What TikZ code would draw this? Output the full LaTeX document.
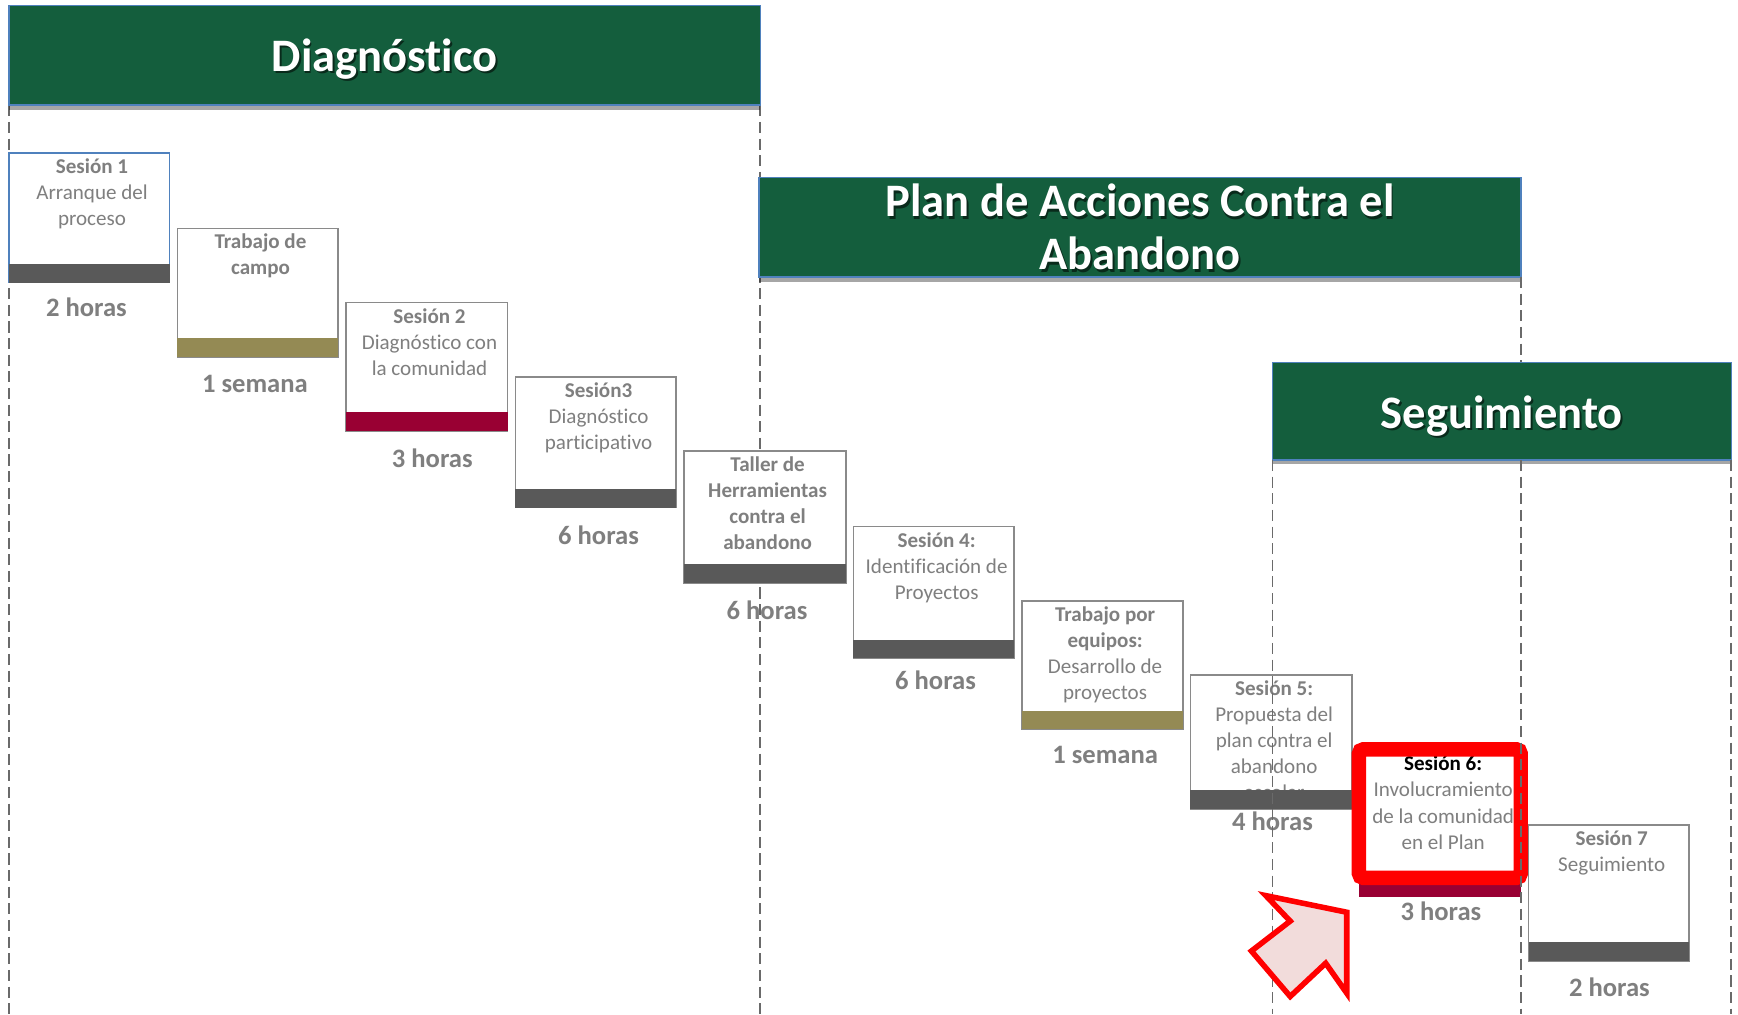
\documentclass[tikz,border=0pt]{standalone}
\usepackage{fontspec}
\setmainfont{Carlito}[Ligatures=NoCommon]
\usetikzlibrary{shadows}
\definecolor{bannergreen}{HTML}{145E3D}
\definecolor{bannerblue}{HTML}{4F81BD}
\definecolor{boxgray}{HTML}{8A8A8A}
\definecolor{txtgray}{HTML}{7F7F7F}
\definecolor{bardark}{HTML}{595959}
\definecolor{barolive}{HTML}{948A54}
\definecolor{barcrimson}{HTML}{990033}
\definecolor{arrowpink}{HTML}{F2DCDB}
\definecolor{linegray}{HTML}{6A6A6A}
\begin{document}
\begin{tikzpicture}[x=1pt,y=-1pt,
  banner/.style={fill=bannergreen, draw=bannerblue, line width=1.5pt, outer sep=0pt,
    drop shadow={shadow xshift=0pt, shadow yshift=-4pt, opacity=0.35, fill=black}},
  btitle/.style={text=white, font=\bfseries\fontsize{42}{48}\selectfont, align=center, inner sep=0pt},
  bshadow/.style={text=black, opacity=0.55, font=\bfseries\fontsize{42}{48}\selectfont, align=center, inner sep=0pt},
  boxst/.style={draw=boxgray, line width=1.5pt, fill=white, outer sep=0pt, inner sep=0pt},
  barst/.style={draw=none, outer sep=0pt, inner sep=0pt, minimum height=17pt},
  txt/.style={text=txtgray, font=\fontsize{19}{23.5}\selectfont, align=center, inner sep=0pt, anchor=north},
  lbl/.style={text=txtgray, font=\bfseries\fontsize{24}{28}\selectfont, inner sep=0pt},
  vline/.style={draw=linegray, line width=1.6pt, dash pattern=on 10pt off 5pt}
]
\useasboundingbox (0,0) rectangle (1568,915);
\fill[white] (0,0) rectangle (1568,915);

% phase column guides (behind)
\coordinate (g1t) at (8,95);   \coordinate (g1b) at (8,915);
\coordinate (g2t) at (686,95); \coordinate (g2b) at (686,915);
\draw[vline] (g1t) -- (g1b);
\draw[vline] (g2t) -- (g2b);

% banners
\node[banner, minimum width=678pt, minimum height=90pt, anchor=north west] (bD) at (8,5) {};
\node[bshadow] (bDs) at ([xshift=1.5pt,yshift=-5pt]bD.center) {Diagnóstico};
\node[btitle] (bDt) at ([yshift=-3pt]bD.center) {Diagnóstico};

\node[banner, minimum width=687pt, minimum height=90pt, anchor=north west] (bP) at (685,160) {};
\node[bshadow] (bPs) at ([xshift=1.5pt,yshift=-2pt]bP.center) {Plan de Acciones Contra el\\Abandono};
\node[btitle] (bPt) at (bP.center) {Plan de Acciones Contra el\\Abandono};

\node[banner, minimum width=414pt, minimum height=88pt, anchor=north west] (bS) at (1148,327) {};
\node[bshadow] (bSs) at ([xshift=1.5pt,yshift=-6pt]bS.center) {Seguimiento};
\node[btitle] (bSt) at ([yshift=-4pt]bS.center) {Seguimiento};

% box 1
\node[boxst, draw=bannerblue, minimum width=145pt, minimum height=117pt, anchor=north west] (s1) at (8,138) {};
\node[txt] (s1t) at ([xshift=2.5pt,yshift=-5pt]s1.north) {\textbf{Sesión 1}\\Arranque del\\proceso};
\node[barst, fill=bardark, minimum width=145pt, anchor=south west] (s1b) at (s1.south west) {};
\node[lbl] (s1l) at (78,277) {2 horas};

% box 2
\node[boxst, minimum width=145pt, minimum height=116pt, anchor=north west] (s2) at (160,206) {};
\node[txt] (s2t) at ([xshift=2.5pt,yshift=-5pt]s2.north) {\textbf{Trabajo de}\\\textbf{campo}};
\node[barst, fill=barolive, minimum width=145pt, anchor=south west] (s2b) at (s2.south west) {};
\node[lbl] (s2l) at (230,346) {1 semana};

% box 3
\node[boxst, minimum width=146pt, minimum height=116pt, anchor=north west] (s3) at (312,273) {};
\node[txt] (s3t) at ([xshift=2.5pt,yshift=-5pt]s3.north) {\textbf{Sesión 2}\\Diagnóstico con\\la comunidad};
\node[barst, fill=barcrimson, minimum width=146pt, anchor=south west] (s3b) at (s3.south west) {};
\node[lbl] (s3l) at (390,413) {3 horas};

% box 4
\node[boxst, minimum width=145pt, minimum height=118pt, anchor=north west] (s4) at (465,340) {};
\node[txt] (s4t) at ([xshift=2.5pt,yshift=-5pt]s4.north) {\textbf{Sesión3}\\Diagnóstico\\participativo};
\node[barst, fill=bardark, minimum width=145pt, anchor=south west] (s4b) at (s4.south west) {};
\node[lbl] (s4l) at (540,483) {6 horas};

% box 5
\node[boxst, minimum width=146pt, minimum height=119pt, anchor=north west] (s5) at (617,407) {};
\node[txt] (s5t) at ([xshift=2.5pt,yshift=-5pt]s5.north) {\textbf{Taller de}\\\textbf{Herramientas}\\\textbf{contra el}\\\textbf{abandono}};
\node[barst, fill=bardark, minimum width=146pt, anchor=south west] (s5b) at (s5.south west) {};
\node[lbl] (s5l) at (692,551) {6 horas};

% box 6
\node[boxst, minimum width=145pt, minimum height=119pt, anchor=north west] (s6) at (770,475) {};
\node[txt] (s6t) at ([xshift=2.5pt,yshift=-5pt]s6.north) {\textbf{Sesión 4:}\\Identificación de\\Proyectos};
\node[barst, fill=bardark, minimum width=145pt, anchor=south west] (s6b) at (s6.south west) {};
\node[lbl] (s6l) at (844,614) {6 horas};

% box 7
\node[boxst, minimum width=145pt, minimum height=116pt, anchor=north west] (s7) at (922,542) {};
\node[txt] (s7t) at ([xshift=2.5pt,yshift=-5pt]s7.north) {\textbf{Trabajo por}\\\textbf{equipos:}\\Desarrollo de\\proyectos};
\node[barst, fill=barolive, minimum width=145pt, anchor=south west] (s7b) at (s7.south west) {};
\node[lbl] (s7l) at (997,681) {1 semana};

% box 8
\node[boxst, minimum width=146pt, minimum height=121pt, anchor=north west] (s8) at (1074,609) {};
\node[txt] (s8t) at ([xshift=2.5pt,yshift=-5pt]s8.north) {\textbf{Sesión 5:}\\Propuesta del\\plan contra el\\abandono\\escolar};
\node[barst, fill=bardark, minimum width=146pt, anchor=south west] (s8b) at (s8.south west) {};
\node[lbl] (s8l) at (1148,741) {4 horas};

% box 9 (highlighted)
\node[boxst, draw=none, minimum width=146pt, minimum height=116pt, anchor=north west] (s9) at (1226,676) {};
\node[txt] (s9t) at ([xshift=3pt,yshift=-6pt]s9.north) {\textcolor{black}{\textbf{Sesión 6:}}\\Involucramiento\\de la comunidad\\en el Plan};
\node[barst, fill=barcrimson, minimum width=146pt, anchor=north west] (s9b) at (1226,792) {};
\draw[red, line width=13pt, rounded corners=4pt] (s9.north west) rectangle (s9.south east);
\node[lbl] (s9l) at (1300,822) {3 horas};

% box 10
\node[boxst, minimum width=145pt, minimum height=123pt, anchor=north west] (s10) at (1379,744) {};
\node[txt] (s10t) at ([xshift=2.5pt,yshift=-5pt]s10.north) {\textbf{Sesión 7}\\Seguimiento};
\node[barst, fill=bardark, minimum width=145pt, anchor=south west] (s10b) at (s10.south west) {};
\node[lbl] (s10l) at (1452,891) {2 horas};

% column guides drawn over boxes
\coordinate (g3t) at (1372,250); \coordinate (g3m) at (1372,327);
\coordinate (g3n) at (1372,415); \coordinate (g3b) at (1372,915);
\coordinate (g4t) at (1148,415); \coordinate (g4b) at (1148,915);
\coordinate (g5t) at (1562,415); \coordinate (g5b) at (1562,915);
\draw[vline] (g3t) -- (g3m);
\draw[vline] (g3n) -- (g3b);
\draw[vline] (g4t) -- (g4b);
\draw[vline] (g5t) -- (g5b);

% pointer arrow
\draw[fill=arrowpink, draw=red, line width=5pt, line join=miter]
  (1142,808) -- (1215,823) -- (1215,896) -- (1196,869) -- (1164,899) -- (1129,858) -- (1164,831) -- cycle;
\end{tikzpicture}
\end{document}
